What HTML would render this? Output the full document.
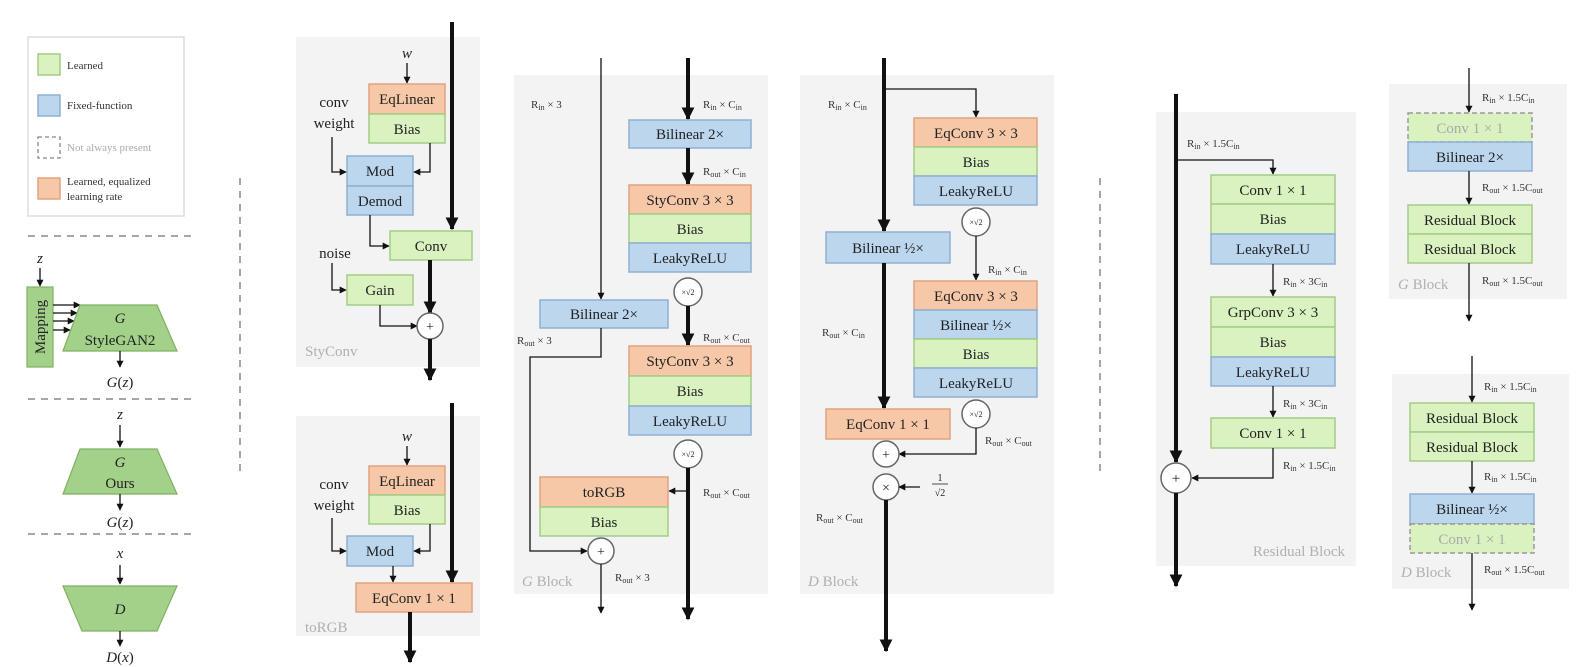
<!DOCTYPE html>
<html><head><meta charset="utf-8"><style>
html,body{margin:0;padding:0;background:#fff}
svg{display:block}
text{font-family:"Liberation Serif",serif;fill:#222}
.bx{font-size:15px;text-anchor:middle}
.l{font-size:11px;fill:#333}
.s{font-size:8px}
.gl{fill:#b0b0b0;font-size:15px}
.g{fill:#d9f2c0;stroke:#a3cd85;stroke-width:1.5}
.b{fill:#bcd6ee;stroke:#8fb0d3;stroke-width:1.5}
.o{fill:#f6c8a8;stroke:#e2a27f;stroke-width:1.5}
.d{fill:#d9f2c0;stroke:#999;stroke-width:1.5;stroke-dasharray:5 3}
.p{fill:#f3f3f3}
.t{stroke:#111;stroke-width:1.3;fill:none}
.k{stroke:#111;stroke-width:4;fill:none}
.c{fill:#fff;stroke:#666;stroke-width:1.5}
.tz{fill:#a3d18a;stroke:#7fb062;stroke-width:1.2}
.dash{stroke:#888;stroke-width:1.5;stroke-dasharray:7 6}
</style></head><body>
<svg width="1582" height="667" viewBox="0 0 1582 667" xmlns="http://www.w3.org/2000/svg">
<defs>
<marker id="a" viewBox="0 0 10 10" refX="9" refY="5" markerWidth="7" markerHeight="7" markerUnits="userSpaceOnUse" orient="auto"><path d="M0,0L10,5L0,10z" fill="#111"/></marker>
<marker id="A" viewBox="0 0 10 10" refX="9" refY="5" markerWidth="13" markerHeight="13" markerUnits="userSpaceOnUse" orient="auto"><path d="M0,0L10,5L0,10z" fill="#111"/></marker>
</defs>

<!-- Legend -->
<rect x="28" y="37" width="156" height="179" fill="#fff" stroke="#ddd" stroke-width="1.5"/>
<rect x="38" y="54" width="22" height="21" class="g"/><text x="67" y="69" class="l">Learned</text>
<rect x="38" y="95" width="22" height="21" class="b"/><text x="67" y="109" class="l">Fixed-function</text>
<rect x="38" y="137" width="22" height="21" fill="none" stroke="#888" stroke-width="1.3" stroke-dasharray="4 3"/><text x="67" y="151" class="l" style="fill:#aaa">Not always present</text>
<rect x="38" y="178" width="22" height="21" class="o"/><text x="67" y="185" class="l">Learned, equalized</text><text x="67" y="200" class="l">learning rate</text>

<line x1="28" y1="236" x2="192" y2="236" class="dash"/>
<line x1="28" y1="399" x2="192" y2="399" class="dash"/>
<line x1="28" y1="534" x2="192" y2="534" class="dash"/>
<line x1="240" y1="178" x2="240" y2="472" class="dash"/>
<line x1="1100" y1="178" x2="1100" y2="472" class="dash"/>

<!-- StyleGAN2 -->
<text x="40" y="263" class="bx" font-style="italic">z</text>
<line x1="40" y1="268" x2="40" y2="286" class="t" marker-end="url(#a)"/>
<rect x="27" y="287" width="26" height="80" class="tz"/>
<text transform="translate(45,327) rotate(-90)" class="bx">Mapping</text>
<line x1="53" y1="305" x2="80" y2="305" class="t" marker-end="url(#a)"/>
<line x1="53" y1="313" x2="77" y2="313" class="t" marker-end="url(#a)"/>
<line x1="53" y1="321" x2="74" y2="321" class="t" marker-end="url(#a)"/>
<line x1="53" y1="330" x2="70" y2="330" class="t" marker-end="url(#a)"/>
<polygon points="80,305 157,305 177,351 63,351" class="tz"/>
<text x="120" y="323" class="bx" font-style="italic">G</text>
<text x="120" y="345" class="bx">StyleGAN2</text>
<line x1="120" y1="351" x2="120" y2="367" class="t" marker-end="url(#a)"/>
<text x="120" y="387" class="bx"><tspan font-style="italic">G</tspan>(<tspan font-style="italic">z</tspan>)</text>

<text x="120" y="419" class="bx" font-style="italic">z</text>
<line x1="120" y1="425" x2="120" y2="447" class="t" marker-end="url(#a)"/>
<polygon points="80,449 157,449 177,494 63,494" class="tz"/>
<text x="120" y="467" class="bx" font-style="italic">G</text>
<text x="120" y="488" class="bx">Ours</text>
<line x1="120" y1="494" x2="120" y2="510" class="t" marker-end="url(#a)"/>
<text x="120" y="527" class="bx"><tspan font-style="italic">G</tspan>(<tspan font-style="italic">z</tspan>)</text>

<text x="120" y="558" class="bx" font-style="italic">x</text>
<line x1="120" y1="565" x2="120" y2="584" class="t" marker-end="url(#a)"/>
<polygon points="63,586 177,586 157,631 82,631" class="tz"/>
<text x="120" y="614" class="bx" font-style="italic">D</text>
<line x1="120" y1="631" x2="120" y2="646" class="t" marker-end="url(#a)"/>
<text x="120" y="662" class="bx"><tspan font-style="italic">D</tspan>(<tspan font-style="italic">x</tspan>)</text>

<!-- StyConv -->
<rect x="296" y="37" width="184" height="330" class="p"/>
<line x1="452" y1="22" x2="452" y2="229" class="k" marker-end="url(#A)"/>
<text x="407" y="58" class="bx" font-style="italic">w</text>
<line x1="407" y1="63" x2="407" y2="83" class="t" marker-end="url(#a)"/>
<rect x="369" y="84" width="76" height="30" class="o"/><text x="407" y="104" class="bx">EqLinear</text>
<rect x="369" y="114" width="76" height="29" class="g"/><text x="407" y="134" class="bx">Bias</text>
<text x="334" y="107" class="bx">conv</text><text x="334" y="128" class="bx">weight</text>
<rect x="347" y="156" width="66" height="30" class="b"/><text x="380" y="176" class="bx">Mod</text>
<rect x="347" y="186" width="66" height="29" class="b"/><text x="380" y="206" class="bx">Demod</text>
<polyline points="332,137 332,172 346,172" class="t" marker-end="url(#a)"/>
<polyline points="430,143 430,172 414,172" class="t" marker-end="url(#a)"/>
<polyline points="370,215 370,246 389,246" class="t" marker-end="url(#a)"/>
<rect x="390" y="231" width="82" height="29" class="g"/><text x="431" y="251" class="bx">Conv</text>
<text x="335" y="258" class="bx">noise</text>
<polyline points="332,263 332,290 346,290" class="t" marker-end="url(#a)"/>
<rect x="347" y="275" width="66" height="30" class="g"/><text x="380" y="295" class="bx">Gain</text>
<polyline points="380,305 380,326 417,326" class="t" marker-end="url(#a)"/>
<line x1="430" y1="260" x2="430" y2="313" class="k" marker-end="url(#A)"/>
<circle cx="430" cy="326" r="13" class="c"/><text x="430" y="331" class="bx" style="font-size:14px">+</text>
<line x1="430" y1="339" x2="430" y2="380" class="k" marker-end="url(#A)"/>
<text x="305" y="356" class="gl">StyConv</text>

<!-- toRGB -->
<rect x="296" y="416" width="184" height="220" class="p"/>
<line x1="452" y1="403" x2="452" y2="582" class="k" marker-end="url(#A)"/>
<text x="407" y="441" class="bx" font-style="italic">w</text>
<line x1="407" y1="446" x2="407" y2="465" class="t" marker-end="url(#a)"/>
<rect x="369" y="466" width="76" height="29" class="o"/><text x="407" y="486" class="bx">EqLinear</text>
<rect x="369" y="495" width="76" height="29" class="g"/><text x="407" y="515" class="bx">Bias</text>
<text x="334" y="489" class="bx">conv</text><text x="334" y="510" class="bx">weight</text>
<rect x="347" y="536" width="66" height="30" class="b"/><text x="380" y="556" class="bx">Mod</text>
<polyline points="332,518 332,551 346,551" class="t" marker-end="url(#a)"/>
<polyline points="430,524 430,551 414,551" class="t" marker-end="url(#a)"/>
<line x1="393" y1="566" x2="393" y2="582" class="t" marker-end="url(#a)"/>
<rect x="356" y="583" width="116" height="29" class="o"/><text x="414" y="603" class="bx">EqConv 1 × 1</text>
<line x1="410" y1="612" x2="410" y2="662" class="k" marker-end="url(#A)"/>
<text x="305" y="632" class="gl">toRGB</text>

<!-- G Block -->
<rect x="514" y="75" width="254" height="519" class="p"/>
<line x1="601" y1="58" x2="601" y2="299" class="t" marker-end="url(#a)"/>
<text x="531" y="108" class="l">R<tspan class="s" dy="2">in</tspan><tspan dy="-2"> × 3</tspan></text>
<line x1="688" y1="58" x2="688" y2="119" class="k" marker-end="url(#A)"/>
<text x="703" y="108" class="l">R<tspan class="s" dy="2">in</tspan><tspan dy="-2"> × C</tspan><tspan class="s" dy="2">in</tspan></text>
<rect x="629" y="120" width="122" height="28" class="b"/><text x="690" y="139" class="bx">Bilinear 2×</text>
<line x1="688" y1="148" x2="688" y2="184" class="k" marker-end="url(#A)"/>
<text x="703" y="175" class="l">R<tspan class="s" dy="2">out</tspan><tspan dy="-2"> × C</tspan><tspan class="s" dy="2">in</tspan></text>
<rect x="629" y="185" width="122" height="29" class="o"/><text x="690" y="205" class="bx">StyConv 3 × 3</text>
<rect x="629" y="214" width="122" height="29" class="g"/><text x="690" y="234" class="bx">Bias</text>
<rect x="629" y="243" width="122" height="29" class="b"/><text x="690" y="263" class="bx">LeakyReLU</text>
<circle cx="688" cy="292" r="14" class="c"/><text x="688" y="295" class="bx" style="font-size:8px">×√2</text>
<line x1="688" y1="306" x2="688" y2="345" class="k" marker-end="url(#A)"/>
<text x="703" y="341" class="l">R<tspan class="s" dy="2">out</tspan><tspan dy="-2"> × C</tspan><tspan class="s" dy="2">out</tspan></text>
<rect x="629" y="346" width="122" height="30" class="o"/><text x="690" y="366" class="bx">StyConv 3 × 3</text>
<rect x="629" y="376" width="122" height="30" class="g"/><text x="690" y="396" class="bx">Bias</text>
<rect x="629" y="406" width="122" height="29" class="b"/><text x="690" y="426" class="bx">LeakyReLU</text>
<circle cx="688" cy="454" r="14" class="c"/><text x="688" y="457" class="bx" style="font-size:8px">×√2</text>
<line x1="688" y1="468" x2="688" y2="619" class="k" marker-end="url(#A)"/>
<line x1="688" y1="491" x2="669" y2="491" class="t" marker-end="url(#a)"/>
<text x="703" y="496" class="l">R<tspan class="s" dy="2">out</tspan><tspan dy="-2"> × C</tspan><tspan class="s" dy="2">out</tspan></text>
<rect x="540" y="300" width="128" height="28" class="b"/><text x="604" y="319" class="bx">Bilinear 2×</text>
<text x="517" y="344" class="l">R<tspan class="s" dy="2">out</tspan><tspan dy="-2"> × 3</tspan></text>
<polyline points="601,328 601,357 530,357 530,551 587,551" class="t" marker-end="url(#a)"/>
<rect x="540" y="477" width="128" height="30" class="o"/><text x="604" y="497" class="bx">toRGB</text>
<rect x="540" y="507" width="128" height="29" class="g"/><text x="604" y="527" class="bx">Bias</text>
<circle cx="601" cy="551" r="13" class="c"/><text x="601" y="556" class="bx" style="font-size:14px">+</text>
<line x1="601" y1="564" x2="601" y2="613" class="t" marker-end="url(#a)"/>
<text x="615" y="581" class="l">R<tspan class="s" dy="2">out</tspan><tspan dy="-2"> × 3</tspan></text>
<text x="522" y="586" class="gl"><tspan font-style="italic">G</tspan> Block</text>

<!-- D Block -->
<rect x="800" y="75" width="254" height="519" class="p"/>
<line x1="884" y1="58" x2="884" y2="231" class="k" marker-end="url(#A)"/>
<polyline points="884,89 976,89 976,117" class="t" marker-end="url(#a)"/>
<text x="828" y="108" class="l">R<tspan class="s" dy="2">in</tspan><tspan dy="-2"> × C</tspan><tspan class="s" dy="2">in</tspan></text>
<rect x="914" y="118" width="123" height="29" class="o"/><text x="976" y="138" class="bx">EqConv 3 × 3</text>
<rect x="914" y="147" width="123" height="29" class="g"/><text x="976" y="167" class="bx">Bias</text>
<rect x="914" y="176" width="123" height="29" class="b"/><text x="976" y="196" class="bx">LeakyReLU</text>
<circle cx="976" cy="222" r="14" class="c"/><text x="976" y="225" class="bx" style="font-size:8px">×√2</text>
<line x1="976" y1="236" x2="976" y2="280" class="t" marker-end="url(#a)"/>
<text x="988" y="273" class="l">R<tspan class="s" dy="2">in</tspan><tspan dy="-2"> × C</tspan><tspan class="s" dy="2">in</tspan></text>
<rect x="914" y="281" width="123" height="29" class="o"/><text x="976" y="301" class="bx">EqConv 3 × 3</text>
<rect x="914" y="310" width="123" height="29" class="b"/><text x="976" y="330" class="bx">Bilinear ½×</text>
<rect x="914" y="339" width="123" height="29" class="g"/><text x="976" y="359" class="bx">Bias</text>
<rect x="914" y="368" width="123" height="29" class="b"/><text x="976" y="388" class="bx">LeakyReLU</text>
<circle cx="976" cy="414" r="14" class="c"/><text x="976" y="417" class="bx" style="font-size:8px">×√2</text>
<polyline points="976,428 976,454 899,454" class="t" marker-end="url(#a)"/>
<text x="985" y="444" class="l">R<tspan class="s" dy="2">out</tspan><tspan dy="-2"> × C</tspan><tspan class="s" dy="2">out</tspan></text>
<rect x="826" y="232" width="124" height="31" class="b"/><text x="888" y="253" class="bx">Bilinear ½×</text>
<line x1="884" y1="263" x2="884" y2="408" class="k" marker-end="url(#A)"/>
<text x="822" y="336" class="l">R<tspan class="s" dy="2">out</tspan><tspan dy="-2"> × C</tspan><tspan class="s" dy="2">in</tspan></text>
<rect x="826" y="409" width="124" height="30" class="o"/><text x="888" y="429" class="bx">EqConv 1 × 1</text>
<circle cx="886" cy="454" r="13" class="c"/><text x="886" y="459" class="bx" style="font-size:14px">+</text>
<circle cx="886" cy="487" r="13" class="c"/><text x="886" y="492" class="bx" style="font-size:14px">×</text>
<line x1="920" y1="487" x2="899" y2="487" class="t" marker-end="url(#a)"/>
<text x="940" y="481" class="bx" style="font-size:10px">1</text>
<line x1="932" y1="484" x2="948" y2="484" stroke="#222" stroke-width="0.8"/>
<text x="940" y="496" class="bx" style="font-size:10px">√2</text>
<line x1="886" y1="500" x2="886" y2="651" class="k" marker-end="url(#A)"/>
<text x="816" y="521" class="l">R<tspan class="s" dy="2">out</tspan><tspan dy="-2"> × C</tspan><tspan class="s" dy="2">out</tspan></text>
<text x="808" y="586" class="gl"><tspan font-style="italic">D</tspan> Block</text>

<!-- Residual Block -->
<rect x="1156" y="112" width="200" height="454" class="p"/>
<line x1="1176" y1="94" x2="1176" y2="462" class="k" marker-end="url(#A)"/>
<polyline points="1176,160 1273,160 1273,174" class="t" marker-end="url(#a)"/>
<text x="1187" y="147" class="l">R<tspan class="s" dy="2">in</tspan><tspan dy="-2"> × 1.5C</tspan><tspan class="s" dy="2">in</tspan></text>
<rect x="1211" y="175" width="124" height="29" class="g"/><text x="1273" y="195" class="bx">Conv 1 × 1</text>
<rect x="1211" y="204" width="124" height="30" class="g"/><text x="1273" y="224" class="bx">Bias</text>
<rect x="1211" y="234" width="124" height="30" class="b"/><text x="1273" y="254" class="bx">LeakyReLU</text>
<line x1="1273" y1="264" x2="1273" y2="296" class="t" marker-end="url(#a)"/>
<text x="1283" y="285" class="l">R<tspan class="s" dy="2">in</tspan><tspan dy="-2"> × 3C</tspan><tspan class="s" dy="2">in</tspan></text>
<rect x="1211" y="297" width="124" height="30" class="g"/><text x="1273" y="317" class="bx">GrpConv 3 × 3</text>
<rect x="1211" y="327" width="124" height="30" class="g"/><text x="1273" y="347" class="bx">Bias</text>
<rect x="1211" y="357" width="124" height="29" class="b"/><text x="1273" y="377" class="bx">LeakyReLU</text>
<line x1="1273" y1="386" x2="1273" y2="417" class="t" marker-end="url(#a)"/>
<text x="1283" y="407" class="l">R<tspan class="s" dy="2">in</tspan><tspan dy="-2"> × 3C</tspan><tspan class="s" dy="2">in</tspan></text>
<rect x="1211" y="418" width="124" height="30" class="g"/><text x="1273" y="438" class="bx">Conv 1 × 1</text>
<polyline points="1273,448 1273,478 1192,478" class="t" marker-end="url(#a)"/>
<text x="1283" y="469" class="l">R<tspan class="s" dy="2">in</tspan><tspan dy="-2"> × 1.5C</tspan><tspan class="s" dy="2">in</tspan></text>
<circle cx="1176" cy="478" r="15" class="c"/><text x="1176" y="483" class="bx" style="font-size:15px">+</text>
<line x1="1176" y1="493" x2="1176" y2="586" class="k" marker-end="url(#A)"/>
<text x="1345" y="556" class="gl" text-anchor="end">Residual Block</text>

<!-- G Block right -->
<rect x="1389" y="84" width="178" height="215" class="p"/>
<line x1="1469" y1="68" x2="1469" y2="112" class="t" marker-end="url(#a)"/>
<text x="1482" y="101" class="l">R<tspan class="s" dy="2">in</tspan><tspan dy="-2"> × 1.5C</tspan><tspan class="s" dy="2">in</tspan></text>
<rect x="1408" y="113" width="124" height="29" class="d"/><text x="1470" y="133" class="bx" style="fill:#aaa">Conv 1 × 1</text>
<rect x="1408" y="142" width="124" height="29" class="b"/><text x="1470" y="162" class="bx">Bilinear 2×</text>
<line x1="1469" y1="171" x2="1469" y2="204" class="t" marker-end="url(#a)"/>
<text x="1482" y="191" class="l">R<tspan class="s" dy="2">out</tspan><tspan dy="-2"> × 1.5C</tspan><tspan class="s" dy="2">out</tspan></text>
<rect x="1408" y="205" width="124" height="29" class="g"/><text x="1470" y="225" class="bx">Residual Block</text>
<rect x="1408" y="234" width="124" height="29" class="g"/><text x="1470" y="254" class="bx">Residual Block</text>
<line x1="1469" y1="263" x2="1469" y2="321" class="t" marker-end="url(#a)"/>
<text x="1482" y="284" class="l">R<tspan class="s" dy="2">out</tspan><tspan dy="-2"> × 1.5C</tspan><tspan class="s" dy="2">out</tspan></text>
<text x="1398" y="289" class="gl"><tspan font-style="italic">G</tspan> Block</text>

<!-- D Block right -->
<rect x="1392" y="374" width="177" height="215" class="p"/>
<line x1="1472" y1="356" x2="1472" y2="402" class="t" marker-end="url(#a)"/>
<text x="1484" y="390" class="l">R<tspan class="s" dy="2">in</tspan><tspan dy="-2"> × 1.5C</tspan><tspan class="s" dy="2">in</tspan></text>
<rect x="1410" y="403" width="124" height="29" class="g"/><text x="1472" y="423" class="bx">Residual Block</text>
<rect x="1410" y="432" width="124" height="29" class="g"/><text x="1472" y="452" class="bx">Residual Block</text>
<line x1="1472" y1="461" x2="1472" y2="493" class="t" marker-end="url(#a)"/>
<text x="1484" y="480" class="l">R<tspan class="s" dy="2">in</tspan><tspan dy="-2"> × 1.5C</tspan><tspan class="s" dy="2">in</tspan></text>
<rect x="1410" y="494" width="124" height="30" class="b"/><text x="1472" y="514" class="bx">Bilinear ½×</text>
<rect x="1410" y="524" width="124" height="29" class="d"/><text x="1472" y="544" class="bx" style="fill:#aaa">Conv 1 × 1</text>
<line x1="1472" y1="553" x2="1472" y2="610" class="t" marker-end="url(#a)"/>
<text x="1484" y="573" class="l">R<tspan class="s" dy="2">out</tspan><tspan dy="-2"> × 1.5C</tspan><tspan class="s" dy="2">out</tspan></text>
<text x="1401" y="577" class="gl"><tspan font-style="italic">D</tspan> Block</text>
</svg>
</body></html>
